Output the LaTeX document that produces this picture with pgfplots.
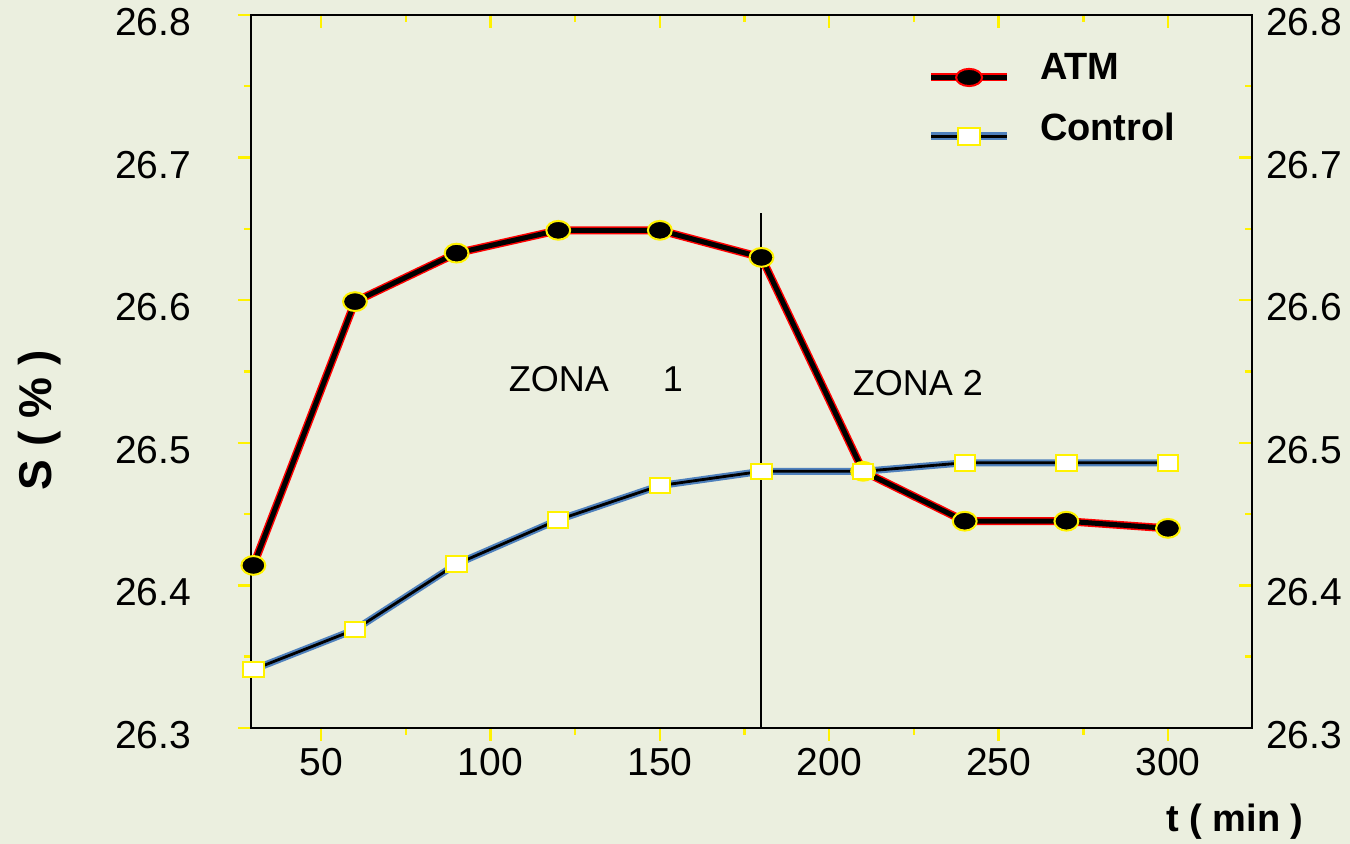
\documentclass[border=0pt]{standalone}
\usepackage{pgfplots}
\pgfplotsset{compat=1.18}
\usepackage{fontspec}
\setmainfont{Liberation Sans}
\definecolor{bg}{RGB}{235,239,223}
\definecolor{ctlblue}{RGB}{79,129,189}
\pgfplotsset{common/.style={
  scale only axis, width=500.5pt, height=356.5pt,
  at={(125.5pt,58pt)}, anchor=south west,
  xmin=29.3, xmax=324.8, ymin=26.3, ymax=26.8,
  xtick={50,100,150,200,250,300}, ytick={26.3,26.4,26.5,26.6,26.7,26.8},
  minor x tick num=1, minor y tick num=1,
  major tick length=6.5pt, minor tick length=3.5pt,
  tick style={yellow, line width=1.2pt},
  axis line style={black, line width=1pt},
  ticklabel style={font=\fontsize{19.5}{22}\selectfont},
  /pgf/number format/assume math mode=true,
  yticklabel style={/pgf/number format/fixed, /pgf/number format/fixed zerofill, /pgf/number format/precision=1},
}}
\begin{document}
\begin{tikzpicture}
\path[use as bounding box, fill=bg] (0,0) rectangle (675pt,422pt);
% right / top decoration axis
\begin{axis}[common, tick align=inside, xtick pos=right, ytick pos=right,
  xticklabels={,,,,,,}, yticklabel pos=right,
  yticklabel style={xshift=3.5pt, yshift=-3.5pt}]
\end{axis}
% main axis
\begin{axis}[common, tick align=outside, xtick pos=left, ytick pos=left,
  yticklabel style={xshift=-20pt, yshift=-3.5pt},
  xlabel={t ( min )}, ylabel={S ( \% )},
  xlabel style={font=\fontsize{19}{22}\selectfont\bfseries, at={(axis description cs:0.983,-0.132)}, anchor=center},
  ylabel style={font=\fontsize{23}{26}\selectfont\bfseries, at={(axis description cs:-0.211,0.432)}, anchor=center, rotate=0},
  legend style={at={(axis description cs:0.675,0.953)}, anchor=north west, draw=none, fill=none, inner sep=0pt,
    font=\fontsize{19}{22}\selectfont\bfseries, row sep=11pt,
    nodes={inner sep=2pt},
    /tikz/every odd column/.append style={column sep=12.5pt}},
  legend cell align=left,
]
\addplot[red, line width=4pt, forget plot] coordinates {
(30,26.414)(60,26.599)(90,26.633)(120,26.649)(150,26.649)(180,26.630)(210,26.480)(240,26.445)(270,26.445)(300,26.440)};
\addplot[ctlblue, line width=3.5pt, forget plot] coordinates {
(30,26.341)(60,26.369)(90,26.415)(120,26.446)(150,26.470)(180,26.480)(210,26.480)(240,26.486)(270,26.486)(300,26.486)};
\addplot[black, line width=1.4pt, forget plot] coordinates {
(30,26.341)(60,26.369)(90,26.415)(120,26.446)(150,26.470)(180,26.480)(210,26.480)(240,26.486)(270,26.486)(300,26.486)};
\addplot[black, line width=2.5pt, mark=*, mark size=4.7pt,
  mark options={solid, xscale=1.27, fill=black, draw=yellow, line width=1pt},
  legend image code/.code={
    \draw[red, line width=4pt] (0pt,-5pt) -- (38pt,-5pt);
    \draw[black, line width=2.5pt] (0pt,-5pt) -- (38pt,-5pt);
    \draw[red, line width=1pt, fill=black] (19pt,-5pt) ellipse [x radius=6.5pt, y radius=4.3pt];
    \path[draw=none, fill=none] (0pt,5pt) -- (0pt,-5pt);
  }] coordinates {
(30,26.414)(60,26.599)(90,26.633)(120,26.649)(150,26.649)(180,26.630)(210,26.480)(240,26.445)(270,26.445)(300,26.440)};
\addlegendentry{ATM}
\addplot[draw=none, mark=square*, mark size=3.9pt,
  mark options={solid, xscale=1.3, fill=white, draw=yellow, line width=1pt},
  legend image code/.code={
    \draw[ctlblue, line width=4pt] (0pt,-4pt) -- (38pt,-4pt);
    \draw[black, line width=1.5pt] (0pt,-4pt) -- (38pt,-4pt);
    \draw[yellow, line width=1pt, fill=white] (13.5pt,-8.3pt) rectangle (24.5pt,0.3pt);
    \path[draw=none, fill=none] (0pt,4pt) -- (0pt,-4pt);
  }] coordinates {
(30,26.341)(60,26.369)(90,26.415)(120,26.446)(150,26.470)(180,26.480)(210,26.480)(240,26.486)(270,26.486)(300,26.486)};
\addlegendentry{Control}
\addplot[black, line width=1pt, forget plot] coordinates {(180,26.3)(180,26.661)};
\node[font=\fontsize{18}{20}\selectfont] at (axis cs:131.1,26.545) {ZONA\hspace{27pt}1};
\node[font=\fontsize{18}{20}\selectfont] at (axis cs:226.2,26.542) {ZONA 2};
\end{axis}
\end{tikzpicture}
\end{document}
